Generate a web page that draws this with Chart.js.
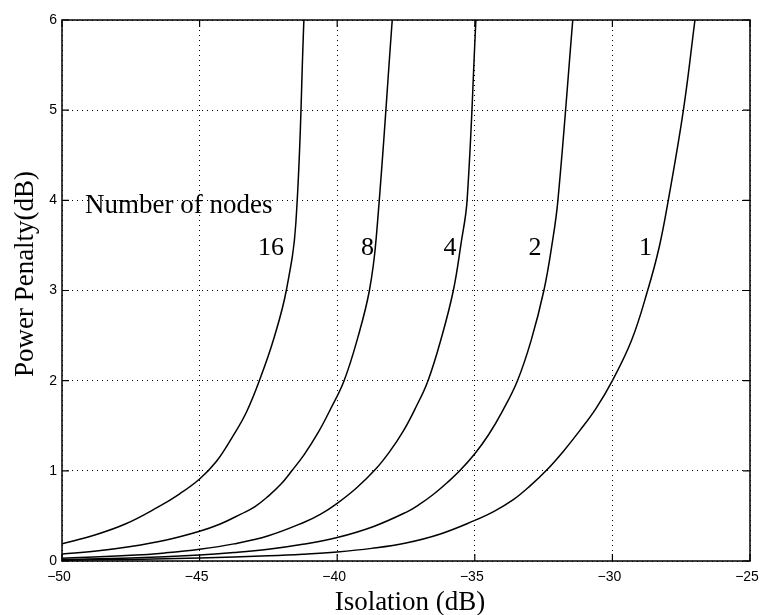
<!DOCTYPE html>
<html>
<head>
<meta charset="utf-8">
<script src="https://cdn.jsdelivr.net/npm/chart.js@4"></script>
<style>
  html, body { margin: 0; padding: 0; background: #fff; }
  #wrap { width: 762px; height: 615px; }
</style>
</head>
<body>
<div id="wrap"><canvas id="myChart" width="762" height="615"></canvas></div>
<script>
// isolation (dB) / power penalty (dB) pairs for each node count
const iso16 = [-50, -48.9, -47.7, -46.5, -45.75, -45.0, -44.4, -43.8, -43.3, -42.78, -42.3, -41.85, -41.5, -41.21];
const pen16 = [0.19, 0.28, 0.41, 0.60, 0.74, 0.91, 1.1, 1.38, 1.65, 2.04, 2.47, 3.0, 3.76, 6.0];

const iso8 = [-50, -48.75, -47.5, -46.25, -45, -44.25, -43.5, -43.0, -42.5, -42.05, -41.65, -41.2, -40.7, -40.25, -39.75, -39.25, -38.83, -38.58, -38.0];
const pen8 = [0.077, 0.11, 0.16, 0.23, 0.33, 0.41, 0.52, 0.60, 0.72, 0.85, 1.0, 1.18, 1.42, 1.68, 2.0, 2.48, 3.0, 3.59, 6.0];

const iso4 = [-50, -47.5, -46.25, -45, -43.75, -42.5, -41.2, -40.6, -40, -39.3, -38.6, -38.1, -37.6, -37.15, -36.7, -36.2, -35.78, -35.5, -35.28, -34.96];
const pen4 = [0.03, 0.063, 0.09, 0.13, 0.19, 0.28, 0.43, 0.52, 0.64, 0.81, 1.02, 1.21, 1.44, 1.7, 2.0, 2.49, 3.0, 3.52, 4.0, 6.0];

const iso2 = [-50, -47.5, -45, -43.75, -42.5, -41.25, -40, -38.7, -37.5, -37.0, -36.5, -36.0, -35.55, -35.0, -34.5, -34.0, -33.45, -32.95, -32.49, -32.2, -31.98, -31.44];
const pen2 = [0.015, 0.033, 0.066, 0.093, 0.13, 0.185, 0.26, 0.38, 0.54, 0.63, 0.74, 0.87, 1.0, 1.19, 1.40, 1.66, 2.0, 2.45, 3.0, 3.5, 4.0, 6.0];

const iso1 = [-50, -47.5, -45, -42.5, -41.25, -40, -38.75, -37.5, -36.25, -35, -34.3, -33.6, -33.0, -32.35, -31.8, -31.2, -30.6, -30, -29.3, -28.72, -28.3, -27.97, -27.42, -27.0];
const pen1 = [0.008, 0.018, 0.033, 0.058, 0.075, 0.10, 0.14, 0.20, 0.30, 0.45, 0.55, 0.68, 0.83, 1.02, 1.21, 1.44, 1.69, 2.0, 2.45, 3.0, 3.48, 4.0, 5.0, 6.0];

// curve labels, placed in data units
const nodeLabels = ['16', '8', '4', '2', '1'];
const nodeLabelIso = [-42.41, -38.90, -35.90, -32.81, -28.80];
const nodeLabelPen = 3.39;

const xTicks = [-50, -45, -40, -35, -30, -25];
const yTicks = [0, 1, 2, 3, 4, 5, 6];

const serif = '"Liberation Serif", "Times New Roman", serif';
const sans = '"Liberation Sans", Arial, Helvetica, sans-serif';

function pts(xs, ys) {
  return xs.map((x, i) => ({ x: x, y: ys[i] }));
}

function curve(xs, ys) {
  return {
    data: pts(xs, ys),
    showLine: true,
    borderColor: '#000',
    borderWidth: 1.5,
    pointRadius: 0,
    tension: 0.4
  };
}

// box around the plot with MATLAB style inward ticks
const frame = {
  id: 'frame',
  afterDatasetsDraw(chart) {
    const { ctx, chartArea: a, scales } = chart;
    ctx.save();
    ctx.strokeStyle = '#000';
    ctx.lineWidth = 1.5;
    ctx.strokeRect(a.left, a.top, a.right - a.left, a.bottom - a.top);
    ctx.lineWidth = 1.2;
    ctx.beginPath();
    xTicks.forEach(v => {
      const px = scales.x.getPixelForValue(v);
      ctx.moveTo(px, a.bottom); ctx.lineTo(px, a.bottom - 7);
      ctx.moveTo(px, a.top); ctx.lineTo(px, a.top + 7);
    });
    yTicks.forEach(v => {
      const py = scales.y.getPixelForValue(v);
      ctx.moveTo(a.left, py); ctx.lineTo(a.left + 7, py);
      ctx.moveTo(a.right, py); ctx.lineTo(a.right - 7, py);
    });
    ctx.stroke();
    ctx.restore();
  }
};

// axis titles and the node count labels
const texts = {
  id: 'texts',
  afterDraw(chart) {
    const { ctx, scales } = chart;
    ctx.save();
    ctx.fillStyle = '#000';
    ctx.textBaseline = 'alphabetic';

    ctx.font = '27px ' + serif;
    ctx.textAlign = 'left';
    ctx.fillText('Number of nodes', scales.x.getPixelForValue(-49.16), scales.y.getPixelForValue(3.86));

    ctx.font = '26px ' + serif;
    ctx.textAlign = 'center';
    nodeLabels.forEach((t, i) => {
      ctx.fillText(t, scales.x.getPixelForValue(nodeLabelIso[i]), scales.y.getPixelForValue(nodeLabelPen));
    });

    ctx.font = '27px ' + serif;
    ctx.fillText('Isolation (dB)', 410, 610);

    ctx.translate(33, 274);
    ctx.rotate(-Math.PI / 2);
    ctx.fillText('Power Penalty(dB)', 0, 0);
    ctx.restore();
  }
};

const ctx = document.getElementById('myChart').getContext('2d');

var graphData = {
  type: 'scatter',
  data: {
    datasets: [
      curve(iso16, pen16),
      curve(iso8, pen8),
      curve(iso4, pen4),
      curve(iso2, pen2),
      curve(iso1, pen1)
    ]
  },
  options: {
    responsive: false,
    animation: false,
    layout: { padding: { top: 20, right: 12, left: 0, bottom: 0 } },
    plugins: {
      legend: { display: false },
      tooltip: { enabled: false }
    },
    scales: {
      x: {
        type: 'linear',
        min: -50,
        max: -25,
        afterBuildTicks: s => { s.ticks = xTicks.map(v => ({ value: v })); },
        afterFit: s => { s.height = 54; s.paddingLeft = 0; s.paddingRight = 0; },
        grid: { color: '#000', lineWidth: 1, drawTicks: false },
        border: { display: false, dash: [1, 4] },
        ticks: {
          padding: 8,
          labelOffset: -3,
          color: '#000',
          font: { family: sans, size: 14 },
          maxRotation: 0,
          callback: v => (v < 0 ? '\u2212' + Math.abs(v) : '' + v)
        }
      },
      y: {
        type: 'linear',
        min: 0,
        max: 6,
        afterBuildTicks: s => { s.ticks = yTicks.map(v => ({ value: v })); },
        afterFit: s => { s.width = 62; s.paddingTop = 0; s.paddingBottom = 0; },
        grid: { color: '#000', lineWidth: 1, drawTicks: false },
        border: { display: false, dash: [1, 4] },
        ticks: {
          padding: 5,
          color: '#000',
          font: { family: sans, size: 14 },
          callback: v => '' + v
        }
      }
    }
  },
  plugins: [frame, texts]
};

var myChart = new Chart(ctx, graphData);
</script>
</body>
</html>
